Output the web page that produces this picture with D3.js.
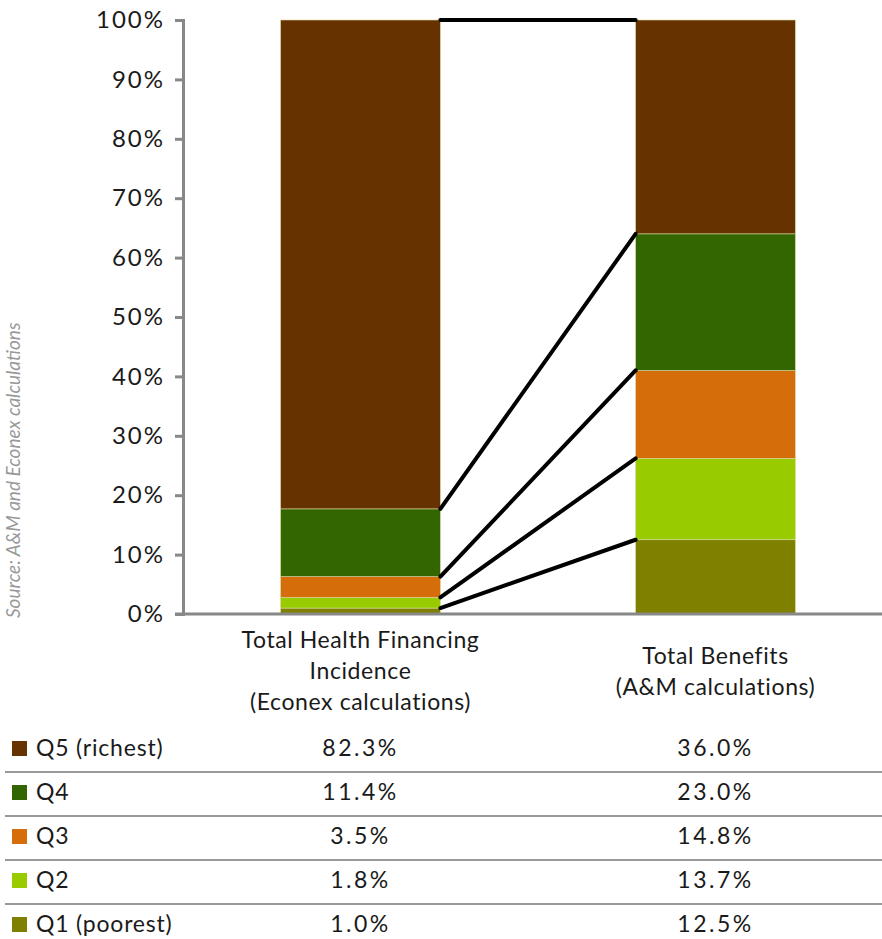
<!DOCTYPE html>
<html>
<head>
<meta charset="utf-8">
<script src="https://cdn.jsdelivr.net/npm/d3@7"></script>
<style>
  body { margin: 0; background: #fff; }
  text { font-family: Lato, "Open Sans", sans-serif; fill: #1a1a1a; }
</style>
</head>
<body>
<script>
(function () {

// data, bottom segment first
var quintiles = ["Q1 (poorest)", "Q2", "Q3", "Q4", "Q5 (richest)"]
var colors = ["#808000", "#99cc00", "#d46d0a", "#336600", "#663300"]
var categories = ["Total Health  Financing|Incidence|(Econex calculations)", "Total Benefits|(A&M calculations)"]
var financing = [1.0, 1.8, 3.5, 11.4, 82.3]
var benefits = [12.5, 13.7, 14.8, 23.0, 36.0]
var yTicks = [0, 10, 20, 30, 40, 50, 60, 70, 80, 90, 100]
var sourceNote = "Source: A&M and Econex calculations"

var width = 882, height = 939
var svg = d3.select("body").append("svg")
  .attr("width", width)
  .attr("height", height)

var x = d3.scaleBand().domain(categories).range([183, 893]).paddingInner(0.55).paddingOuter(0.275)
var y = d3.scaleLinear().domain([0, 100]).range([614, 20])

// stacked rows per category
var series = [financing, benefits]
var stacks = series.map(function (vals, ci) {
  var acc = 0
  return vals.map(function (v, qi) {
    var d = { cat: categories[ci], q: qi, y0: acc, y1: acc + v }
    acc += v
    return d
  })
})

// bars
svg.append("g").selectAll("g")
  .data(stacks)
  .enter().append("g")
  .selectAll("rect")
  .data(function (d) { return d })
  .enter().append("rect")
  .attr("x", function (d) { return x(d.cat) })
  .attr("width", x.bandwidth())
  .attr("y", function (d) { return y(d.y1) })
  .attr("height", function (d) { return y(d.y0) - y(d.y1) })
  .attr("fill", function (d) { return colors[d.q] })
  .attr("stroke", "#d8d8a0")
  .attr("stroke-width", 0.6)

// connector lines between segment tops
var links = stacks[0].map(function (d, i) { return { a: d.y1, b: stacks[1][i].y1 } })
svg.append("g").selectAll("line")
  .data(links)
  .enter().append("line")
  .attr("x1", x(categories[0]) + x.bandwidth())
  .attr("x2", x(categories[1]))
  .attr("y1", function (d) { return y(d.a) })
  .attr("y2", function (d) { return y(d.b) })
  .attr("stroke", "#000")
  .attr("stroke-width", 4)
  .attr("stroke-linecap", "round")

// y axis
var yAxis = svg.append("g")
  .attr("transform", "translate(183,0)")
  .call(d3.axisLeft(y).tickValues(yTicks).tickSize(8).tickPadding(10)
    .tickFormat(function (d) { return d + "%" }))
yAxis.select(".domain").attr("stroke", "#888").attr("stroke-width", 3)
yAxis.selectAll(".tick line").attr("stroke", "#888").attr("stroke-width", 3)
yAxis.selectAll("text").style("font-size", "24px").attr("fill", "#1a1a1a")
  .style("font-family", "Lato, sans-serif")
  .style("letter-spacing", "2px")

// baseline
svg.append("line")
  .attr("x1", 175).attr("x2", width)
  .attr("y1", y(0)).attr("y2", y(0))
  .attr("stroke", "#888").attr("stroke-width", 3)

// category labels
var catLabels = svg.append("g").selectAll("text")
  .data(categories)
  .enter().append("text")
  .attr("text-anchor", "middle")
  .style("font-size", "23px")
  .style("letter-spacing", "0.6px")
  .attr("transform", function (d) {
    var n = d.split("|").length
    return "translate(" + (x(d) + x.bandwidth() / 2) + "," + (679 - (n - 1) * 31 / 2) + ")"
  })
catLabels.selectAll("tspan")
  .data(function (d) { return d.split("|") })
  .enter().append("tspan")
  .attr("x", 0)
  .attr("y", function (d, i) { return i * 31 })
  .text(function (d) { return d })

// source note
svg.append("text")
  .attr("transform", "translate(20,618) rotate(-90)")
  .style("font-size", "19px")
  .style("font-style", "italic")
  .style("fill", "#999")
  .text(sourceNote)

// data table, top row = Q5
var rowH = 44, rowTop = 726
var rows = d3.range(quintiles.length).reverse()
var table = svg.append("g").selectAll("g")
  .data(rows)
  .enter().append("g")
  .attr("transform", function (d, i) { return "translate(0," + (rowTop + i * rowH) + ")" })

table.append("rect")
  .attr("x", 12).attr("y", 15)
  .attr("width", 15).attr("height", 15)
  .attr("fill", function (d) { return colors[d] })

table.append("text")
  .attr("x", 36).attr("y", 30)
  .style("font-size", "23px")
  .style("letter-spacing", "0.8px")
  .text(function (d) { return quintiles[d] })

series.forEach(function (vals, ci) {
  table.append("text")
    .attr("x", x(categories[ci]) + x.bandwidth() / 2)
    .attr("y", 30)
    .attr("text-anchor", "middle")
    .style("font-size", "23px")
    .style("letter-spacing", "2.5px")
    .text(function (d) { return vals[d].toFixed(1) + "%" })
})

table.filter(function (d, i) { return i < rows.length - 1 })
  .append("line")
  .attr("x1", 5).attr("x2", width)
  .attr("y1", 46).attr("y2", 46)
  .attr("stroke", "#999").attr("stroke-width", 2)

}())
</script>
</body>
</html>
